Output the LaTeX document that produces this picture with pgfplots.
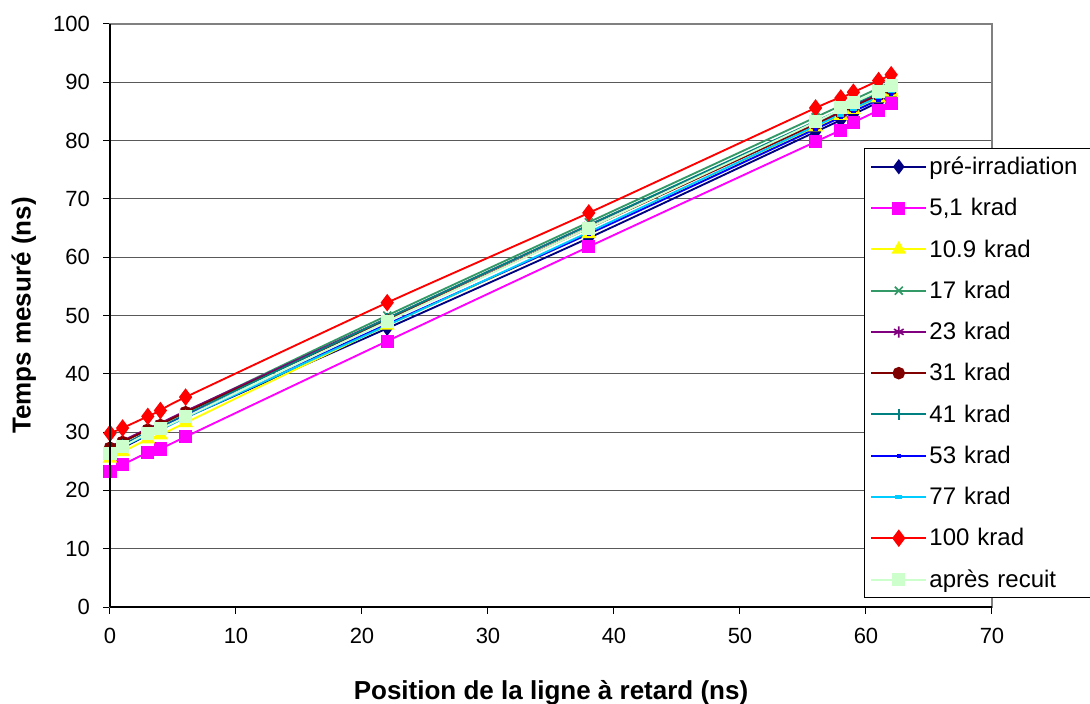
\documentclass[border=0pt]{standalone}
\usepackage{pgfplots}
\pgfplotsset{compat=1.18}
\usepackage{fontspec}
\setmainfont{Liberation Sans}
\definecolor{cnavy}{HTML}{000080}
\definecolor{cmag}{HTML}{FF00FF}
\definecolor{cyel}{HTML}{FFFF00}
\definecolor{csea}{HTML}{339966}
\definecolor{cpur}{HTML}{800080}
\definecolor{cdred}{HTML}{800000}
\definecolor{cteal}{HTML}{008080}
\definecolor{cblue}{HTML}{0000FF}
\definecolor{ccyan}{HTML}{00CCFF}
\definecolor{cred}{HTML}{FF0000}
\definecolor{cpale}{HTML}{CCFFCC}
\begin{document}
\begin{tikzpicture}[x=1pt,y=1pt]
\path[use as bounding box] (-82.5,-72.75) rectangle (735,455.25);
\begin{axis}[
  at={(0,0)}, anchor=origin,
  scale only axis, width=661.5pt, height=437.25pt,
  xmin=0, xmax=70, ymin=0, ymax=100,
  xtick={0,10,...,70}, ytick={0,10,...,100},
  xtick pos=bottom, ytick pos=left,
  ymajorgrids, grid style={black!65, line width=0.75pt},
  axis line style={black!50, line width=1pt},
  tick style={black, line width=0.75pt},
  tick align=outside, major tick length=5pt,
  /pgf/number format/assume math mode=true,
  ticklabel style={font=\fontsize{16.5}{19}\selectfont},
  xticklabel style={yshift=-7pt},
  yticklabel style={xshift=-6.5pt},
  xlabel={\bfseries Position de la ligne à retard (ns)},
  ylabel={\bfseries Temps mesuré (ns)},
  label style={font=\fontsize{19.5}{23}\selectfont},
  xlabel style={yshift=-21pt},
  ylabel style={yshift=6pt},
  every axis plot/.append style={smooth, tension=0.4, line width=1.4pt},
  mark size=4.2pt,
  legend cell align=left,
  legend style={at={(0.8549,0.7873)}, anchor=north west, draw=black, line width=0.75pt,
    font=\fontsize{18}{21}\selectfont, row sep=12.8pt, inner sep=4.5pt,
    text width=122pt, nodes={inner sep=1.8pt}},
  legend image code/.code={\draw[mark repeat=2,mark phase=2] plot coordinates {(0pt,0pt) (20.5pt,0pt) (41pt,0pt)};},
]
\addplot[cnavy, mark=diamond*, mark options={fill=cnavy, scale=1.1}] coordinates {(0,26.3)(1,27.3)(3,29.5)(4,30.3)(6,32.5)(22,47.8)(38,63.3)(56,81.5)(58,83.5)(59,84.5)(61,86.6)(62,87.6)};
\addlegendentry{pré-irradiation}
\addplot[cmag, mark=square*, mark options={fill=cmag}] coordinates {(0,23.3)(1,24.4)(3,26.5)(4,27.1)(6,29.2)(22,45.6)(38,61.8)(56,79.8)(58,81.8)(59,83.1)(61,85.2)(62,86.3)};
\addlegendentry{5,1 krad}
\addplot[cyel, mark=triangle*, mark options={fill=cyel, scale=1.2}] coordinates {(0,25.5)(1,26.6)(3,28.8)(4,29.5)(6,31.6)(22,48.3)(38,64.0)(56,82.3)(58,84.3)(59,85.3)(61,87.3)(62,88.3)};
\addlegendentry{10.9 krad}
\addplot[csea, mark=x, mark options={line width=1.2pt}] coordinates {(0,27.2)(1,28.3)(3,30.5)(4,31.3)(6,33.5)(22,50.0)(38,66.0)(56,84.0)(58,86.0)(59,87.0)(61,89.0)(62,90.0)};
\addlegendentry{17 krad}
\addplot[cpur, mark=asterisk, mark options={line width=1.2pt}] coordinates {(0,27.5)(1,28.5)(3,30.6)(4,31.5)(6,33.6)(22,49.5)(38,65.5)(56,83.0)(58,85.0)(59,86.0)(61,88.0)(62,89.0)};
\addlegendentry{23 krad}
\addplot[cdred, mark=*, mark options={fill=cdred, scale=0.95}] coordinates {(0,27.3)(1,28.3)(3,30.4)(4,31.2)(6,33.4)(22,49.2)(38,65.0)(56,82.8)(58,84.8)(59,85.8)(61,87.8)(62,88.8)};
\addlegendentry{31 krad}
\addplot[cteal, mark=+, mark options={line width=1.2pt}] coordinates {(0,26.8)(1,27.8)(3,30.0)(4,30.8)(6,33.0)(22,49.5)(38,65.5)(56,83.3)(58,85.3)(59,86.3)(61,88.3)(62,89.3)};
\addlegendentry{41 krad}
\addplot[cblue, mark=-, mark options={line width=3pt, scale=0.4}] coordinates {(0,26.6)(1,27.6)(3,29.8)(4,30.5)(6,32.7)(22,48.5)(38,64.0)(56,82.0)(58,84.0)(59,85.0)(61,87.0)(62,88.0)};
\addlegendentry{53 krad}
\addplot[ccyan, mark=-, mark options={line width=3.5pt, scale=0.6}] coordinates {(0,26.5)(1,27.5)(3,29.6)(4,30.4)(6,32.5)(22,48.3)(38,64.3)(56,82.5)(58,84.5)(59,85.5)(61,87.5)(62,88.5)};
\addlegendentry{77 krad}
\addplot[cred, mark=diamond*, mark options={fill=cred, scale=1.3}] coordinates {(0,29.8)(1,30.7)(3,32.7)(4,33.7)(6,36.0)(22,52.2)(38,67.6)(56,85.6)(58,87.3)(59,88.3)(61,90.3)(62,91.3)};
\addlegendentry{100 krad}
\addplot[cpale, mark=square*, mark options={fill=cpale}] coordinates {(0,26.3)(1,27.5)(3,29.8)(4,30.6)(6,32.6)(22,49.0)(38,65.0)(56,83.2)(58,85.6)(59,86.5)(61,88.5)(62,89.5)};
\addlegendentry{après recuit}
\end{axis}
\draw[black, line width=1pt] (0,0) -- (0,437.25);
\draw[black, line width=1pt] (0,0) -- (661.5,0);
\end{tikzpicture}
\end{document}
